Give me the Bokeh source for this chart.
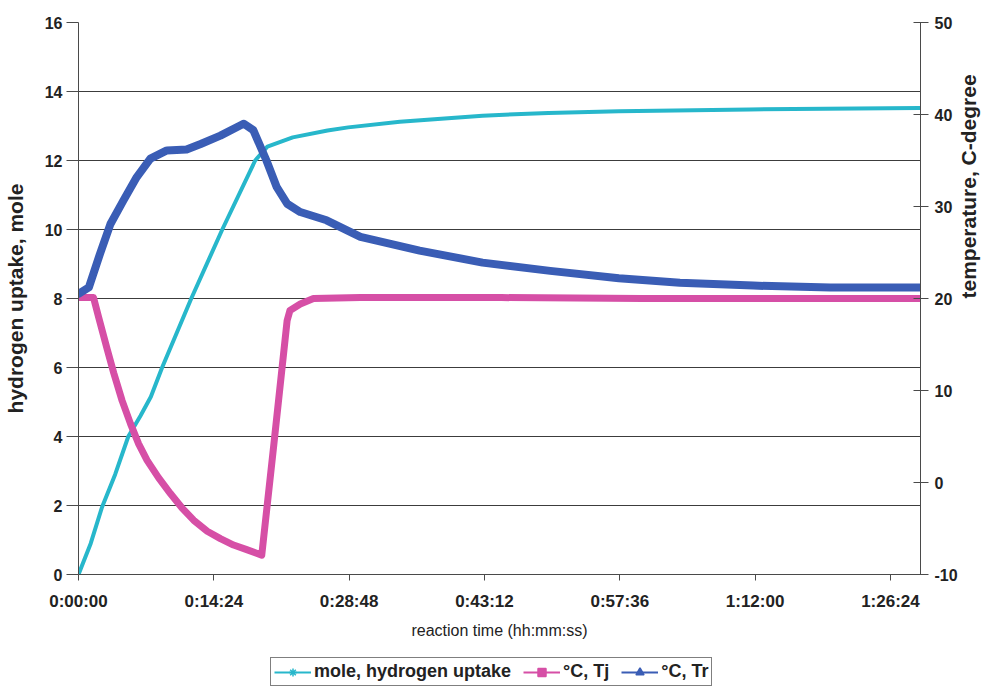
import math
import numpy as np
from bokeh.plotting import figure
from bokeh.layouts import column
from bokeh.models import (LinearAxis, Range1d, FixedTicker, Legend, LegendItem,
                          ColumnDataSource)
from bokeh.embed import file_html
from bokeh.resources import INLINE

# ---------------- data ----------------
# hydrogen uptake (mole) vs reaction time (minutes)
uptake_time_min = [0, 1.3, 2.5, 3.9, 5.3, 6.6, 7.7, 8.9, 12.0, 15.3, 18.8, 20.1,
                   22.8, 26.5, 28.7, 34.2, 43.0, 50.0, 57.5, 71.4, 89.5]
uptake_mole = [0, 0.9, 1.95, 2.9, 4.0, 4.6, 5.15, 6.0, 8.0, 10.0, 12.0, 12.4,
               12.67, 12.87, 12.96, 13.12, 13.3, 13.38, 13.43, 13.48, 13.52]

# jacket temperature Tj (deg C)
tj_time_min = [0, 1.6, 2.16, 3.05, 3.75, 4.64, 5.53, 6.4, 7.3, 8.53, 9.78, 11.0,
               12.25, 13.7, 15.1, 16.5, 17.9, 19.5, 20.75, 22.2, 22.5, 23.6, 25.0,
               30.0, 45.0, 60.0, 75.0, 89.5]
tj_degC = [20.1, 20.1, 17.9, 14.5, 11.9, 8.9, 6.4, 4.2, 2.4, 0.5, -1.2, -2.75,
           -4.1, -5.3, -6.1, -6.8, -7.3, -7.9, 3.8, 17.6, 18.7, 19.4, 20.0,
           20.1, 20.1, 20.0, 20.0, 20.0]

# reactor temperature Tr (deg C)
tr_time_min = [0, 1.1, 2.3, 3.4, 4.8, 6.2, 7.65, 9.4, 11.5, 13.0, 15.1, 17.2,
               17.6, 18.6, 20.0, 21.1, 22.2, 23.6, 26.4, 30.0, 36.3, 43.0, 50.2,
               57.5, 64.0, 71.8, 80.0, 89.5]
tr_degC = [20.5, 21.2, 24.9, 28.1, 30.7, 33.2, 35.2, 36.1, 36.2, 36.8, 37.7, 38.8,
           39.0, 38.3, 35.0, 32.1, 30.3, 29.4, 28.5, 26.7, 25.2, 23.9, 23.0,
           22.2, 21.7, 21.4, 21.2, 21.2]

x_tick_seconds = [0, 864, 1728, 2592, 3456, 4320, 5184]
x_tick_labels = ["0:00:00", "0:14:24", "0:28:48", "0:43:12", "0:57:36",
                 "1:12:00", "1:26:24"]
left_ticks = [0, 2, 4, 6, 8, 10, 12, 14, 16]
right_ticks = [-10, 0, 10, 20, 30, 40, 50]
right_tick_labels = ["-10", "0", "10", "20", "30", "40", "50"]

series_names = ["mole, hydrogen uptake", "\u00b0C, Tj", "\u00b0C, Tr"]
series_colors = ["#27b7cb", "#d64fa6", "#3a5db5"]

X_MAX_S = 5376
FONT = "Liberation Sans"
TEXT = "#222222"
AXIS = "#4a4a4a"
W = 994

src_up = ColumnDataSource(dict(t=np.array(uptake_time_min) * 60, v=uptake_mole))
src_tj = ColumnDataSource(dict(t=np.array(tj_time_min) * 60, v=tj_degC))
src_tr = ColumnDataSource(dict(t=np.array(tr_time_min) * 60, v=tr_degC))

p = figure(width=W, height=650, output_backend="svg", toolbar_location=None,
           x_range=Range1d(0, X_MAX_S), y_range=Range1d(0, 16),
           min_border_left=78, min_border_right=73, min_border_top=22,
           min_border_bottom=76)
p.extra_y_ranges = {"temp": Range1d(-10, 50)}
p.outline_line_color = None
p.background_fill_color = "white"
p.border_fill_color = "white"

# grid
p.xgrid.visible = False
p.ygrid.ticker = FixedTicker(ticks=left_ticks)
p.ygrid.grid_line_color = "#3c3c3c"
p.ygrid.grid_line_width = 1

# x axis
xa = p.xaxis[0]
xa.ticker = FixedTicker(ticks=x_tick_seconds)
xa.major_label_overrides = {t: lab for t, lab in zip(x_tick_seconds, x_tick_labels)}
xa.axis_label = "reaction time (hh:mm:ss)"
xa.axis_label_text_font = FONT
xa.axis_label_text_font_size = "16px"
xa.axis_label_text_font_style = "normal"
xa.axis_label_text_color = TEXT
xa.axis_label_standoff = 8
xa.major_label_text_font = FONT
xa.major_label_text_font_size = "17px"
xa.major_label_text_font_style = "bold"
xa.major_label_text_color = TEXT
xa.major_label_standoff = 11
xa.major_tick_out = 6
xa.major_tick_in = 0
xa.minor_tick_line_color = None
xa.axis_line_color = AXIS
xa.major_tick_line_color = AXIS

# left axis
ya = p.yaxis[0]
ya.ticker = FixedTicker(ticks=left_ticks)
ya.axis_label = "hydrogen uptake, mole"
ya.axis_label_text_font = FONT
ya.axis_label_text_font_size = "21px"
ya.axis_label_text_font_style = "bold"
ya.axis_label_text_color = TEXT
ya.axis_label_standoff = 15
ya.major_label_text_font = FONT
ya.major_label_text_font_size = "16px"
ya.major_label_text_font_style = "bold"
ya.major_label_text_color = TEXT
ya.major_label_standoff = 4
ya.major_tick_out = 12
ya.major_tick_in = 0
ya.minor_tick_line_color = None
ya.axis_line_color = AXIS
ya.major_tick_line_color = AXIS

# right axis
ra = LinearAxis(y_range_name="temp", ticker=FixedTicker(ticks=right_ticks))
ra.major_label_overrides = {t: lab for t, lab in zip(right_ticks, right_tick_labels)}
ra.axis_label = "temperature, C-degree"
try:
    ra.axis_label_orientation = math.pi / 2
except Exception:
    pass
ra.axis_label_text_font = FONT
ra.axis_label_text_font_size = "21px"
ra.axis_label_text_font_style = "bold"
ra.axis_label_text_color = TEXT
ra.axis_label_standoff = 8
ra.major_label_text_font = FONT
ra.major_label_text_font_size = "16px"
ra.major_label_text_font_style = "bold"
ra.major_label_text_color = TEXT
ra.major_label_standoff = 6
ra.major_tick_out = 8
ra.major_tick_in = 7
ra.minor_tick_line_color = None
ra.axis_line_color = AXIS
ra.major_tick_line_color = AXIS
p.add_layout(ra, "right")

# data lines
p.line("t", "v", source=src_up, color=series_colors[0], line_width=4,
       line_join="round", line_cap="round")
p.line("t", "v", source=src_tj, color=series_colors[1], line_width=7,
       line_join="round", line_cap="round", y_range_name="temp")
p.line("t", "v", source=src_tr, color=series_colors[2], line_width=8,
       line_join="round", line_cap="round", y_range_name="temp")

# ---------------- legend strip below the chart ----------------
# (its own small figure; the ranges keep the series themselves out of view,
#  only the legend is seen)
lg = figure(width=W, height=37, output_backend="svg", toolbar_location=None,
            x_range=Range1d(-20000, -10000), y_range=Range1d(-20000, -10000),
            x_axis_location=None, y_axis_location=None,
            min_border_left=0, min_border_right=0, min_border_top=0,
            min_border_bottom=0)
lg.outline_line_color = None
lg.xgrid.visible = False
lg.ygrid.visible = False
lg.background_fill_color = "white"
lg.border_fill_color = "white"

markers = ["asterisk", "square", "triangle"]
sources = [src_up, src_tj, src_tr]
items = []
for name, col, mk, src in zip(series_names, series_colors, markers, sources):
    ln = lg.line("t", "v", source=src, color=col, line_width=2)
    sc = lg.scatter("t", "v", source=src, marker=mk, size=7, line_color=col,
                    fill_color=col, line_width=1.5)
    items.append(LegendItem(label=name, renderers=[ln, sc]))

legend = Legend(items=items, orientation="horizontal", location=(192, 1),
                label_text_font=FONT, label_text_font_size="18px",
                label_text_font_style="bold", label_text_color=TEXT,
                glyph_width=37, glyph_height=20, label_height=20,
                label_standoff=3, spacing=12, padding=3, margin=0,
                border_line_color="black", border_line_width=1,
                background_fill_color="white", background_fill_alpha=1.0)
lg.add_layout(legend)

layout = column(p, lg, spacing=0)
open("out.html", "w").write(file_html(layout, INLINE))
